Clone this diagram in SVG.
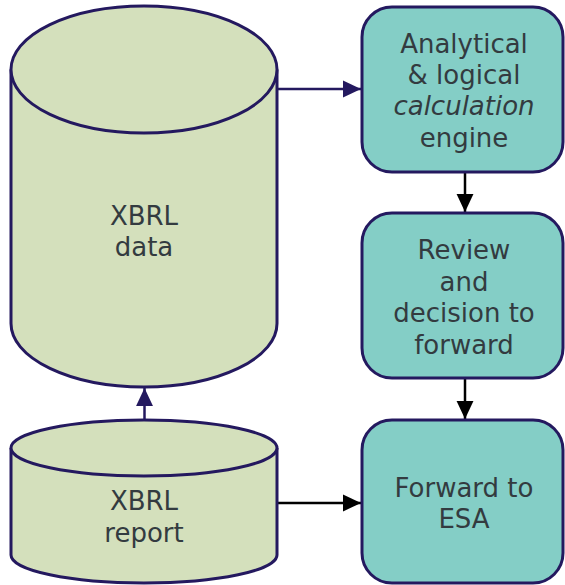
<svg xmlns="http://www.w3.org/2000/svg" width="565" height="585" viewBox="0 0 565 585">
<style>
.cyl{fill:#d4e0bc;stroke:#24195f;stroke-width:3}
.box{fill:#84cec6;stroke:#24195f;stroke-width:3}
.t{font-family:"DejaVu Sans",Verdana,sans-serif;font-size:26px;fill:#333b40;text-anchor:middle}
.cn{fill:none;stroke-width:2.5}
</style>
<defs>
<marker id="an" markerUnits="userSpaceOnUse" markerWidth="18" markerHeight="18" viewBox="0 0 16 16" refX="16" refY="8" orient="auto"><path d="M0,0.5 L16,8 L0,15.5 Z" fill="#24195f"/></marker>
<marker id="ak" markerUnits="userSpaceOnUse" markerWidth="18" markerHeight="18" viewBox="0 0 16 16" refX="16" refY="8" orient="auto"><path d="M0,0.5 L16,8 L0,15.5 Z" fill="#000"/></marker>
</defs>
<g id="connectors">
<path class="cn" d="M275,89 H361" stroke="#24195f" marker-end="url(#an)"/>
<path class="cn" d="M144.5,420 V388" stroke="#24195f" marker-end="url(#an)"/>
<path class="cn" d="M465,172 V212" stroke="#000" marker-end="url(#ak)"/>
<path class="cn" d="M465,378 V419" stroke="#000" marker-end="url(#ak)"/>
<path class="cn" d="M277,503 H361" stroke="#000" marker-end="url(#ak)"/>
</g>
<g id="xbrl-data">
<path class="cyl" d="M11,69.5 V323.5 A133,63.5 0 0 0 277,323.5 V69.5"/>
<ellipse class="cyl" cx="144" cy="69.5" rx="133" ry="63.5"/>
<text class="t" x="144" y="225">XBRL</text>
<text class="t" x="144" y="256">data</text>
</g>
<g id="xbrl-report">
<path class="cyl" d="M11,448 V555 A133,28 0 0 0 277,555 V448"/>
<ellipse class="cyl" cx="144" cy="448" rx="133" ry="28"/>
<text class="t" x="144" y="510">XBRL</text>
<text class="t" x="144" y="542">report</text>
</g>
<g id="engine">
<rect class="box" x="362" y="7" width="201" height="165" rx="30"/>
<text class="t" x="464" y="53">Analytical</text>
<text class="t" x="464" y="84">&amp; logical</text>
<text class="t" x="464" y="115" font-style="italic">calculation</text>
<text class="t" x="464" y="147">engine</text>
</g>
<g id="review">
<rect class="box" x="362" y="213" width="201" height="165" rx="30"/>
<text class="t" x="464" y="259">Review</text>
<text class="t" x="464" y="291">and</text>
<text class="t" x="464" y="322">decision to</text>
<text class="t" x="464" y="354">forward</text>
</g>
<g id="forward">
<rect class="box" x="362" y="420" width="201" height="163" rx="30"/>
<text class="t" x="464" y="497">Forward to</text>
<text class="t" x="464" y="528">ESA</text>
</g>
</svg>
